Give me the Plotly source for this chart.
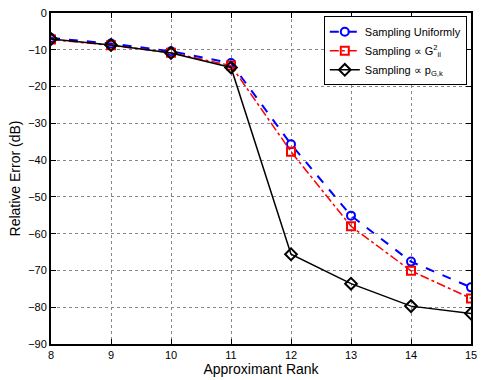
import plotly.graph_objects as go

ranks = [8, 9, 10, 11, 12, 13, 14, 15]
uniform = [-6.8, -8.3, -10.4, -13.6, -35.7, -55.1, -67.6, -74.6]
diag_sq = [-7.2, -8.8, -10.8, -14.3, -37.7, -58.0, -70.1, -77.6]
pgk = [-7.1, -8.7, -10.9, -14.8, -65.6, -73.6, -79.7, -81.7]

labels = ["Sampling Uniformly",
          "Sampling \u221d G<sup>2</sup><sub>ii</sub>",
          "Sampling \u221d p<sub>G,k</sub>"]

fig = go.Figure()
fig.add_trace(go.Scatter(x=ranks, y=uniform, name=labels[0], mode="lines+markers",
                         line=dict(color="#0000ff", width=2, dash="dash"),
                         marker=dict(symbol="circle-open", size=8, color="#0000ff", line=dict(width=2))))
fig.add_trace(go.Scatter(x=ranks, y=diag_sq, name=labels[1], mode="lines+markers",
                         line=dict(color="#ff0000", width=1.5, dash="dashdot"),
                         marker=dict(symbol="square-open", size=8, color="#ff0000", line=dict(width=2))))
fig.add_trace(go.Scatter(x=ranks, y=pgk, name=labels[2], mode="lines+markers",
                         line=dict(color="#000000", width=1.5),
                         marker=dict(symbol="diamond-open", size=9, color="#000000", line=dict(width=2))))

axis_common = dict(showline=True, linecolor="black", linewidth=2, mirror="ticks",
                   ticks="inside", ticklen=5, tickwidth=1, tickcolor="black",
                   showgrid=True, gridcolor="#888888", griddash="dot", gridwidth=1,
                   zeroline=False, tickfont=dict(size=11, color="black"))

fig.update_xaxes(range=[8, 15], dtick=1, title=dict(text="Approximant Rank", font=dict(size=14, color="black"), standoff=2),
                 **axis_common)
fig.update_yaxes(range=[-90, 0], dtick=10, title=dict(text="Relative Error (dB)", font=dict(size=14, color="black"), standoff=4),
                 **axis_common)

fig.update_layout(
    width=484, height=380,
    margin=dict(l=51, r=7, t=12, b=31),
    paper_bgcolor="white", plot_bgcolor="white",
    font=dict(family="Liberation Sans, Arial, sans-serif", color="black"),
    showlegend=True,
    legend=dict(x=0.99, y=0.99, xanchor="right", yanchor="top",
                bordercolor="black", borderwidth=1, bgcolor="white",
                font=dict(size=11, color="black"), tracegroupgap=0),
)

fig.write_html("out.html", config={"displayModeBar": False},
               post_script="document.body.style.margin='0';document.body.style.overflow='hidden';")
